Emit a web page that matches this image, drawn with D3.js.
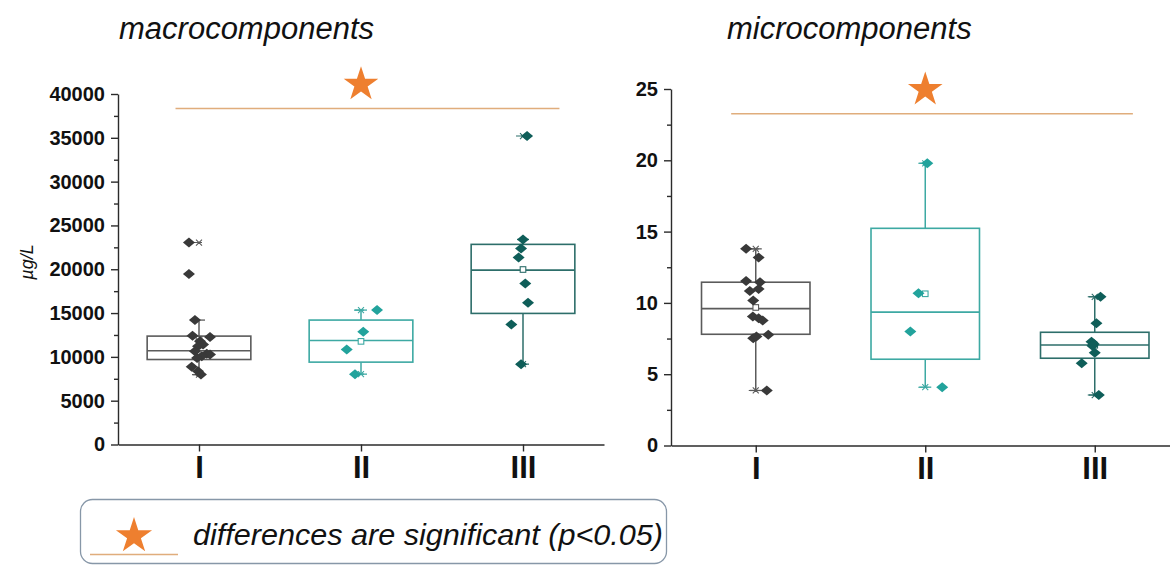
<!DOCTYPE html>
<html><head><meta charset="utf-8">
<script src="https://cdn.jsdelivr.net/npm/d3@7"></script>
<style>
html,body{margin:0;padding:0;background:#fff;}
svg{display:block;font-family:"Liberation Sans",Arial,sans-serif;}
</style></head><body>
<svg id="chart" width="1170" height="565"></svg>
<script>
const categories = ["I", "II", "III"];

// macrocomponents (µg/L): individual samples per group
const macroI = [23050, 19450, 14200, 12420, 12270, 11780, 11400, 11200, 10640, 10370, 10260, 10070, 9880, 8860, 8360, 7980];
const macroII = [15340, 12860, 10850, 8030];
const macroIII = [35200, 23400, 22380, 21350, 18380, 16180, 13700, 9170];
// macrocomponents box statistics
const macroQ1 = [9700, 9400, 14960];
const macroMedian = [10700, 11870, 19900];
const macroQ3 = [12370, 14200, 22840];
const macroWhiskerLow = [7980, 8030, 9170];
const macroWhiskerHigh = [14200, 15340, 23400];
const macroMin = [7980, 8030, 9170];
const macroMax = [23050, 15340, 35200];
const macroMean = [12010, 11770, 19970];
const macroTicks = [0, 5000, 10000, 15000, 20000, 25000, 30000, 35000, 40000];
const macroSignificance = 38350;

// microcomponents (µg/L): individual samples per group
const microI = [13.79, 13.18, 11.54, 11.45, 10.84, 10.98, 10.16, 9.04, 8.93, 8.76, 7.52, 7.64, 7.76, 3.86];
const microII = [19.79, 10.68, 7.99, 4.09];
const microIII = [10.43, 8.57, 7.28, 7.12, 7.0, 6.51, 5.76, 3.54];
// microcomponents box statistics
const microQ1 = [7.80, 6.05, 6.12];
const microMedian = [9.60, 9.35, 7.05];
const microQ3 = [11.45, 15.23, 7.94];
const microWhiskerLow = [3.86, 4.09, 3.54];
const microWhiskerHigh = [13.79, 19.79, 10.43];
const microMin = [3.86, 4.09, 3.54];
const microMax = [13.79, 19.79, 10.43];
const microMean = [9.68, 10.64, 7.03];
const microTicks = [0, 5, 10, 15, 20, 25];
const microSignificance = 23.27;

// horizontal scatter of the sample markers, as a share of the category step
const macroJitter = [
  [-0.062, -0.062, -0.025, -0.04, 0.068, 0.006, 0.025, -0.006, -0.025, 0.048, 0.068, 0.017, -0.012, -0.045, -0.006, 0.012],
  [0.099, 0.014, -0.088, -0.037],
  [0.025, 0, -0.012, -0.027, 0.014, 0.031, -0.072, -0.012]
];
const microJitter = [
  [-0.057, 0.017, -0.057, 0.025, -0.035, 0.017, -0.015, -0.017, 0.017, 0.041, -0.015, 0.004, 0.074, 0.065],
  [0.012, -0.04, -0.088, 0.1],
  [0.034, 0.01, -0.019, -0.006, -0.014, 0, -0.077, 0.024]
];

const pointColors = ["#393939", "#22a39c", "#0f5e59"];
const boxColors = ["#5b5b5b", "#3da9a3", "#2d6e6a"];
const starColor = "#ee7f2f";
const sigLineColor = "#e0ad7c";

const svg = d3.select("#chart");

const diamond = "M0,-5L6,0L0,5L-6,0Z";
const starPath = r => d3.symbol().type(d3.symbolStar).size(r * r / 0.8908130915292852)();

function drawPanel(cfg) {
  const g = svg.append("g");
  const x = d3.scaleLinear().domain([0.5, 3.5]).range(cfg.xRange);
  const y = d3.scaleLinear().domain(cfg.yDomain).range(cfg.yRange);
  const step = x(2) - x(1);
  const boxW = step * 0.64;

  // y axis: major ticks with labels, minor ticks in between
  const yAxis = g.append("g")
    .attr("transform", `translate(${cfg.xRange[0]},0)`)
    .call(d3.axisLeft(y).tickValues(cfg.ticks).tickFormat(d3.format("d"))
      .tickSize(7).tickPadding(6).tickSizeOuter(0));
  const minor = d3.pairs(cfg.ticks).map(([a, b]) => (a + b) / 2);
  g.append("g")
    .attr("transform", `translate(${cfg.xRange[0]},0)`)
    .call(d3.axisLeft(y).tickValues(minor).tickSize(4).tickFormat("").tickSizeOuter(0))
    .select(".domain").remove();

  // x axis with group labels
  const xAxis = g.append("g")
    .attr("transform", `translate(0,${cfg.yRange[0]})`)
    .call(d3.axisBottom(x).tickValues([1, 2, 3]).tickFormat(i => categories[i - 1])
      .tickSize(7).tickPadding(4).tickSizeOuter(0));

  g.selectAll(".domain, .tick line").attr("stroke", "#2b2b2b").attr("stroke-width", 1.4);
  yAxis.selectAll("text").attr("font-size", 20).attr("font-weight", "bold").attr("fill", "#111");
  xAxis.selectAll("text").attr("font-size", 31).attr("font-weight", "bold").attr("fill", "#111");

  // title
  svg.append("text").attr("x", cfg.titleX).attr("y", 39)
    .attr("font-size", 31).attr("font-style", "italic").attr("fill", "#111")
    .text(cfg.title);

  const groups = [0, 1, 2].map(i => ({
    i, cx: x(i + 1),
    q1: cfg.q1[i], med: cfg.median[i], q3: cfg.q3[i],
    lo: cfg.whiskerLow[i], hi: cfg.whiskerHigh[i],
    min: cfg.min[i], max: cfg.max[i], mean: cfg.mean[i],
    pts: cfg.points[i], jit: cfg.jitter[i]
  }));

  const bg = g.selectAll(".grp").data(groups).join("g").attr("class", "grp");

  // whiskers
  bg.append("line")
    .attr("x1", d => d.cx).attr("x2", d => d.cx)
    .attr("y1", d => y(d.q3)).attr("y2", d => y(d.hi))
    .attr("stroke", d => boxColors[d.i]).attr("stroke-width", 1.5);
  bg.append("line")
    .attr("x1", d => d.cx).attr("x2", d => d.cx)
    .attr("y1", d => y(d.q1)).attr("y2", d => y(d.lo))
    .attr("stroke", d => boxColors[d.i]).attr("stroke-width", 1.5);
  // whisker caps
  ["hi", "lo"].forEach(k => {
    bg.append("line")
      .attr("x1", d => d.cx - 6).attr("x2", d => d.cx + 6)
      .attr("y1", d => y(d[k])).attr("y2", d => y(d[k]))
      .attr("stroke", d => boxColors[d.i]).attr("stroke-width", 1.3);
  });

  // box and median
  bg.append("rect")
    .attr("x", d => d.cx - boxW / 2).attr("width", boxW)
    .attr("y", d => y(d.q3)).attr("height", d => y(d.q1) - y(d.q3))
    .attr("fill", "none").attr("stroke", d => boxColors[d.i]).attr("stroke-width", 1.6);
  bg.append("line")
    .attr("x1", d => d.cx - boxW / 2).attr("x2", d => d.cx + boxW / 2)
    .attr("y1", d => y(d.med)).attr("y2", d => y(d.med))
    .attr("stroke", d => boxColors[d.i]).attr("stroke-width", 1.6);

  // mean marker
  bg.append("rect")
    .attr("x", d => d.cx - 2.8).attr("y", d => y(d.mean) - 2.8)
    .attr("width", 5.6).attr("height", 5.6)
    .attr("fill", "#fff").attr("stroke", d => boxColors[d.i]).attr("stroke-width", 1.1);

  // min / max markers
  ["min", "max"].forEach(k => {
    bg.append("path")
      .attr("transform", d => `translate(${d.cx},${y(d[k])})`)
      .attr("d", "M-3,-3L3,3M-3,3L3,-3M-7,0L3,0")
      .attr("fill", "none").attr("stroke", d => boxColors[d.i]).attr("stroke-width", 1.1);
  });

  // individual samples
  bg.each(function (d) {
    d3.select(this).selectAll(".pt")
      .data(d.pts.map((v, j) => ({ v, o: d.jit[j] })))
      .join("path").attr("class", "pt")
      .attr("d", diamond)
      .attr("transform", p => `translate(${d.cx + p.o * step},${y(p.v)})`)
      .attr("fill", pointColors[d.i]);
  });

  // significance bar with star
  const ySig = y(cfg.significance);
  g.append("line")
    .attr("x1", x(0.855)).attr("x2", x(3.225))
    .attr("y1", ySig).attr("y2", ySig)
    .attr("stroke", sigLineColor).attr("stroke-width", 1.5);
  g.append("path")
    .attr("d", starPath(18.2))
    .attr("transform", `translate(${x(2)},${ySig - 24})`)
    .attr("fill", starColor);

  return g;
}

drawPanel({
  title: "macrocomponents", titleX: 119,
  xRange: [118, 604], yDomain: [0, 40000], yRange: [444.5, 94],
  ticks: macroTicks,
  points: [macroI, macroII, macroIII], jitter: macroJitter,
  q1: macroQ1, median: macroMedian, q3: macroQ3,
  whiskerLow: macroWhiskerLow, whiskerHigh: macroWhiskerHigh,
  min: macroMin, max: macroMax, mean: macroMean,
  significance: macroSignificance
});

drawPanel({
  title: "microcomponents", titleX: 727,
  xRange: [671, 1179.5], yDomain: [0, 25], yRange: [445.5, 89],
  ticks: microTicks,
  points: [microI, microII, microIII], jitter: microJitter,
  q1: microQ1, median: microMedian, q3: microQ3,
  whiskerLow: microWhiskerLow, whiskerHigh: microWhiskerHigh,
  min: microMin, max: microMax, mean: microMean,
  significance: microSignificance
});

// unit label on the left axis
svg.append("text")
  .attr("transform", "translate(33,262) rotate(-90)")
  .attr("text-anchor", "middle")
  .attr("font-size", 18).attr("font-style", "italic").attr("fill", "#111")
  .text("µg/L");

// legend
const legend = svg.append("g");
legend.append("rect")
  .attr("x", 80.5).attr("y", 499.5).attr("width", 586).attr("height", 64).attr("rx", 12)
  .attr("fill", "#fff").attr("stroke", "#8797a8").attr("stroke-width", 1.3);
legend.append("line")
  .attr("x1", 90).attr("x2", 178).attr("y1", 554.5).attr("y2", 554.5)
  .attr("stroke", sigLineColor).attr("stroke-width", 1.5);
legend.append("path")
  .attr("d", starPath(19))
  .attr("transform", "translate(134,536)")
  .attr("fill", starColor);
legend.append("text")
  .attr("x", 193).attr("y", 545)
  .attr("font-size", 30).attr("font-style", "italic").attr("fill", "#111")
  .attr("textLength", 470).attr("lengthAdjust", "spacingAndGlyphs")
  .text("differences are significant (p<0.05)");
</script>
</body></html>
